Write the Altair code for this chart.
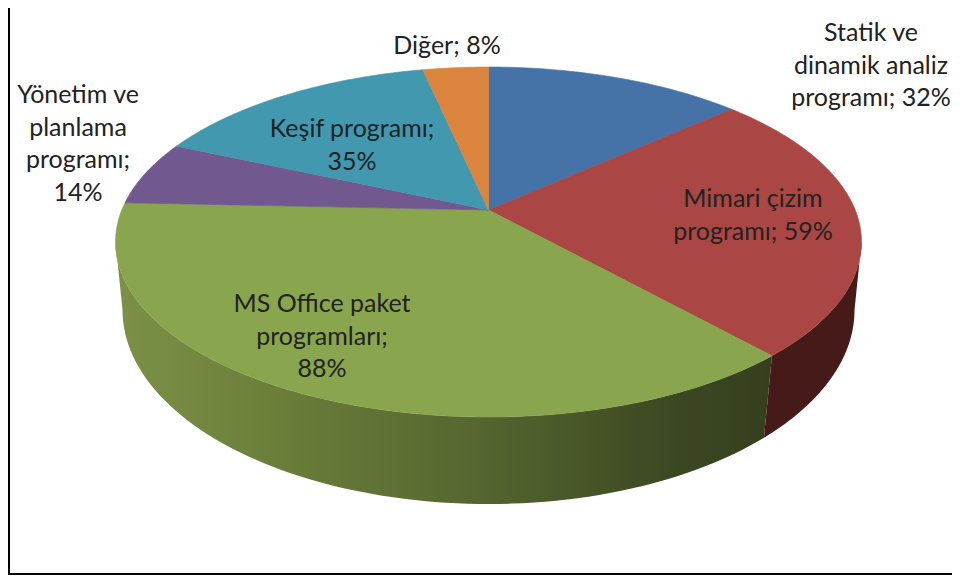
import math
import altair as alt
import pandas as pd

# ---- values
categories = ["Statik ve dinamik analiz programı", "Mimari çizim programı", "MS Office paket programları",
              "Yönetim ve planlama programı", "Keşif programı", "Diğer"]
percents = [32, 59, 88, 14, 35, 8]
label_lines = ["Statik ve\ndinamik analiz\nprogramı; 32%", "Mimari çizim\nprogramı; 59%",
               "MS Office paket\nprogramları;\n88%", "Yönetim ve\nplanlama\nprogramı;\n14%",
               "Keşif programı;\n35%", "Diğer; 8%"]
colors = ["#4572A7", "#AA4643", "#89A54E", "#71588F", "#4198AF", "#DB843D"]

# ---- layout of the tilted pie (page pixels)
CX, CY, A, B = 488.5, 242.0, 373.0, 175.0      # top ellipse
APEX_Y = 210.0                                 # where the slices meet
TILT = 0.183                                   # perspective of the top face
LX, LY, LA, LB = 488.5, 310.0, 366.0, 194.0    # lower rim of the wall
edge_nudge = [0, -0.7, -0.7, -0.6, -0.5, 0, 0]  # degrees, slice boundaries
label_x = [871, 753, 322, 78, 352, 447]
label_y = [33, 199, 304, 95, 129, 46]          # first line of each label


def rim(theta_deg):
    """Point on the top ellipse for a clockwise angle from twelve o'clock."""
    t = math.radians(theta_deg)
    u, v = math.sin(t), math.cos(t)
    d = 1 + TILT * v
    X = u * math.sqrt(1 - TILT ** 2) / d
    Y = (v + TILT) / d
    return CX + A * X, CY - B * Y


total = sum(percents)
edges = [0.0]
for p in percents:
    edges.append(edges[-1] + p / total * 360)
edges = [e + n for e, n in zip(edges, edge_nudge)]


def arc(start, end):
    n = max(2, int(abs(end - start)))
    return [rim(start + (end - start) * i / n) for i in range(n + 1)]


def lower(phi_start, phi_end, n=80):
    out = []
    for i in range(n + 1):
        p = phi_start + (phi_end - phi_start) * i / n
        out.append((LX + LA * math.cos(p), LY + LB * math.sin(p)))
    return out


def theta_at_side(sign):
    # angle whose rim point is the horizontal extreme of the ellipse
    best = max(range(0, 3600), key=lambda k: sign * rim(k / 10)[0])
    return best / 10


X_SCALE = alt.Scale(domain=[8, 952], range=[0, 944], nice=False, zero=False)
Y_SCALE = alt.Scale(domain=[8, 575], range=[0, 567], nice=False, zero=False)


def polygon(points, fill, stroke_width=0.6, stroke=None):
    df = pd.DataFrame([{"x": x, "y": y, "o": i} for i, (x, y) in enumerate(points)])
    return alt.Chart(df).mark_line(
        fill=fill, stroke=stroke or "transparent", strokeWidth=stroke_width, interpolate="linear"
    ).encode(
        x=alt.X("x:Q", scale=X_SCALE, axis=None),
        y=alt.Y("y:Q", scale=Y_SCALE, axis=None),
        order="o:Q",
    )


right_t = theta_at_side(1)
left_t = theta_at_side(-1)
corner_t = edges[2]
corner_phi = math.acos((rim(corner_t)[0] - 8 - LX) / LA)

# wall of the green slice, lit from the left
green_pts = arc(corner_t, left_t) + lower(math.pi, corner_phi)
green_fill = alt.Gradient(
    gradient="linear", x1=0, y1=0, x2=1, y2=0,
    stops=[
        alt.GradientStop(color="#7C9147", offset=0),
        alt.GradientStop(color="#6A7E3A", offset=0.25),
        alt.GradientStop(color="#55662F", offset=0.55),
        alt.GradientStop(color="#3C4822", offset=0.85),
        alt.GradientStop(color="#353F1E", offset=1),
    ],
)
red_pts = arc(corner_t, right_t) + lower(0.0, corner_phi)

layers = [polygon(green_pts, green_fill), polygon(red_pts, "#451A18")]

for i, c in enumerate(colors):
    pts = [(CX, APEX_Y)] + arc(edges[i], edges[i + 1]) + [(CX, APEX_Y)]
    layers.append(polygon(pts, c, stroke=c))

labels = pd.DataFrame({"x": label_x, "y": label_y, "t": label_lines, "c": categories})
layers.append(
    alt.Chart(labels).mark_text(
        font="Lato", fontSize=25, lineBreak="\n", lineHeight=32.5, color="#222222",
        align="center", baseline="middle",
    ).encode(
        x=alt.X("x:Q", scale=X_SCALE, axis=None),
        y=alt.Y("y:Q", scale=Y_SCALE, axis=None),
        text="t:N",
    )
)

# picture frame: left and bottom edges
frame_left = alt.Chart(pd.DataFrame({"x": [9], "y": [8], "y2": [575]})).mark_rule(
    color="#000000", strokeWidth=2
).encode(x=alt.X("x:Q", scale=X_SCALE, axis=None), y=alt.Y("y:Q", scale=Y_SCALE, axis=None), y2="y2:Q")
frame_bottom = alt.Chart(pd.DataFrame({"y": [574], "x": [8], "x2": [952]})).mark_rule(
    color="#000000", strokeWidth=2
).encode(y=alt.Y("y:Q", scale=Y_SCALE, axis=None), x=alt.X("x:Q", scale=X_SCALE, axis=None), x2="x2:Q")

chart = alt.layer(*layers, frame_left, frame_bottom).properties(
    width=944, height=567, padding=0, autosize=alt.AutoSizeParams(type="none"), background="white"
).configure_view(stroke=None)

chart.save("out.html", embed_options={"renderer": "svg", "actions": False})
